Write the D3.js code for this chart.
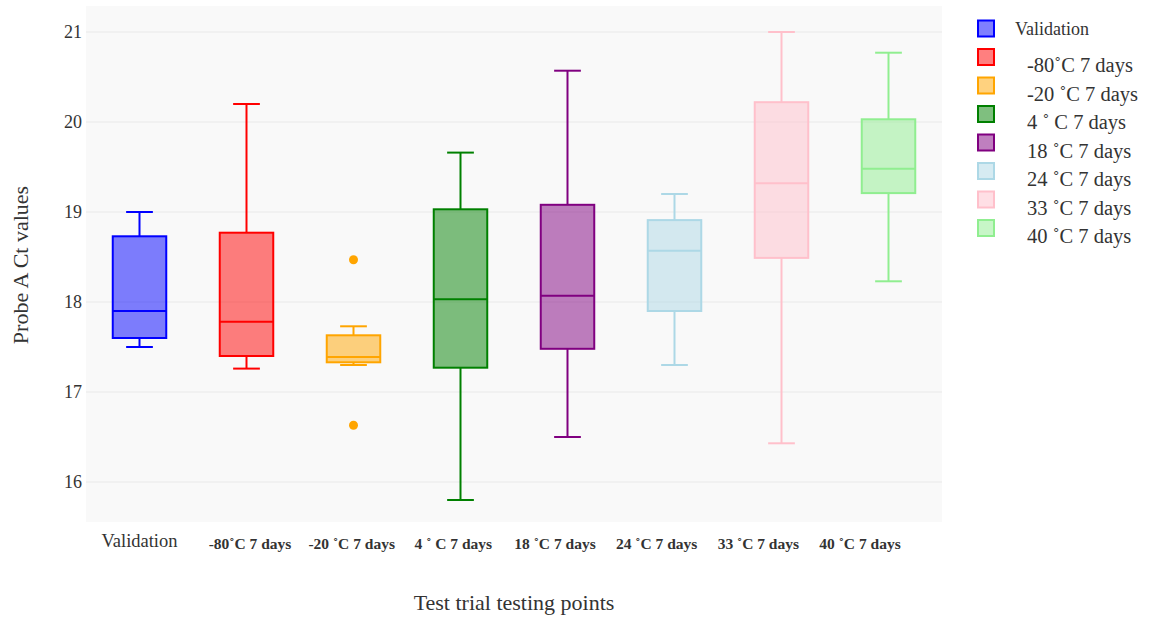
<!DOCTYPE html>
<html>
<head>
<meta charset="utf-8">
<script src="https://cdn.jsdelivr.net/npm/d3@7"></script>
<style>
  html, body { margin: 0; padding: 0; background: #ffffff; }
  svg { display: block; }
  text { font-family: "Liberation Serif", "Times New Roman", serif; fill: #333; }
</style>
</head>
<body>
<svg id="chart" width="1159" height="619"></svg>
<script>
// ---- data ----
const categories = ["Validation", "-80˚C 7 days", "-20 ˚C 7 days", "4 ˚ C 7 days",
                    "18 ˚C 7 days", "24 ˚C 7 days", "33 ˚C 7 days", "40 ˚C 7 days"];
const axisLabels = ["Validation", "-80˚C 7 days", "-20 ˚C 7 days", "4 ˚ C 7 days",
                    "18 ˚C 7 days", "24 ˚C 7 days", "33 ˚C 7 days", "40 ˚C 7 days"];
const lowerWhisker = [17.50, 17.26, 17.30, 15.80, 16.50, 17.30, 16.43, 18.23];
const q1Values     = [17.60, 17.40, 17.33, 17.27, 17.48, 17.90, 18.49, 19.21];
const medianValues = [17.90, 17.78, 17.39, 18.03, 18.07, 18.57, 19.32, 19.48];
const q3Values     = [18.73, 18.77, 17.63, 19.03, 19.08, 18.91, 20.22, 20.03];
const upperWhisker = [19.00, 20.20, 17.73, 19.66, 20.57, 19.20, 21.00, 20.77];
const outlierValues = [[], [], [18.47, 16.63], [], [], [], [], []];
const colors = ["#0000ff", "#ff0000", "#ffa500", "#008000",
                "#800080", "#add8e6", "#ffc0cb", "#90ee90"];
const yTicks = [16, 17, 18, 19, 20, 21];
const xTitle = "Test trial testing points";
const yTitle = "Probe A Ct values";

// ---- layout ----
const svg = d3.select("#chart");
const plot = { left: 86, right: 942 };
const y = d3.scaleLinear().domain([16, 21]).range([482, 32]);
const yTop = y(21.29), yBottom = y(15.555);
const x = d3.scaleBand().domain(categories).range([plot.left, plot.right]).padding(0);
const boxW = x.bandwidth() * 0.5;

// background
svg.append("rect")
  .attr("x", plot.left).attr("y", yTop)
  .attr("width", plot.right - plot.left).attr("height", yBottom - yTop)
  .attr("fill", "#f9f9f9");

// grid
svg.append("g").selectAll("line").data(yTicks).join("line")
  .attr("x1", plot.left).attr("x2", plot.right)
  .attr("y1", d => y(d)).attr("y2", d => y(d))
  .attr("stroke", "#e9e9e9").attr("stroke-width", 1.2);

// y axis
const yAxis = d3.axisLeft(y).tickValues(yTicks).tickSize(0).tickPadding(4)
  .tickFormat(d3.format("d"));
const yg = svg.append("g").attr("transform", `translate(${plot.left - 0},0)`).call(yAxis);
yg.select(".domain").remove();
yg.selectAll("text").attr("font-size", 18).style("font-family", '"Liberation Serif", serif').attr("fill", "#333");

// boxes
const data = categories.map((c, i) => ({
  c, i, lo: lowerWhisker[i], q1: q1Values[i], med: medianValues[i],
  q3: q3Values[i], hi: upperWhisker[i], out: outlierValues[i], color: colors[i]
}));

const boxes = svg.append("g").selectAll("g").data(data).join("g")
  .attr("transform", d => `translate(${x(d.c) + x.bandwidth() / 2},0)`);

boxes.append("line")
  .attr("x1", 0).attr("x2", 0)
  .attr("y1", d => y(d.hi)).attr("y2", d => y(d.q3))
  .attr("stroke", d => d.color).attr("stroke-width", 2);
boxes.append("line")
  .attr("x1", 0).attr("x2", 0)
  .attr("y1", d => y(d.q1)).attr("y2", d => y(d.lo))
  .attr("stroke", d => d.color).attr("stroke-width", 2);
boxes.append("line")
  .attr("x1", -boxW / 4).attr("x2", boxW / 4)
  .attr("y1", d => y(d.hi)).attr("y2", d => y(d.hi))
  .attr("stroke", d => d.color).attr("stroke-width", 2);
boxes.append("line")
  .attr("x1", -boxW / 4).attr("x2", boxW / 4)
  .attr("y1", d => y(d.lo)).attr("y2", d => y(d.lo))
  .attr("stroke", d => d.color).attr("stroke-width", 2);
boxes.append("rect")
  .attr("x", -boxW / 2).attr("width", boxW)
  .attr("y", d => y(d.q3)).attr("height", d => y(d.q1) - y(d.q3))
  .attr("fill", d => d.color).attr("fill-opacity", 0.5)
  .attr("stroke", d => d.color).attr("stroke-width", 2);
boxes.append("line")
  .attr("x1", -boxW / 2).attr("x2", boxW / 2)
  .attr("y1", d => y(d.med)).attr("y2", d => y(d.med))
  .attr("stroke", d => d.color).attr("stroke-width", 2);
boxes.selectAll("circle").data(d => d.out.map(v => ({ v, color: d.color }))).join("circle")
  .attr("cx", 0).attr("cy", o => y(o.v)).attr("r", 4.5)
  .attr("fill", o => o.color);

// x tick labels
const labelX = d3.scalePoint().domain(axisLabels.slice(1)).range([250, 860]);
svg.append("text")
  .attr("x", x(categories[0]) + x.bandwidth() / 2).attr("y", 547)
  .attr("text-anchor", "middle").attr("font-size", 18.5)
  .text(axisLabels[0]);
svg.append("g").selectAll("text").data(axisLabels.slice(1)).join("text")
  .attr("x", d => labelX(d)).attr("y", 549)
  .attr("text-anchor", "middle").attr("font-size", 15.5).attr("font-weight", "bold")
  .text(d => d);

// axis titles
svg.append("text")
  .attr("x", 514).attr("y", 610)
  .attr("text-anchor", "middle").attr("font-size", 22)
  .text(xTitle);
svg.append("text")
  .attr("transform", "translate(28,265) rotate(-90)")
  .attr("text-anchor", "middle").attr("font-size", 22)
  .text(yTitle);

// legend
const legend = svg.append("g").selectAll("g").data(data).join("g")
  .attr("transform", d => `translate(986,${28.5 + d.i * 28.5})`);
legend.append("rect")
  .attr("x", -8).attr("y", -8).attr("width", 16).attr("height", 16)
  .attr("fill", d => d.color).attr("fill-opacity", 0.5)
  .attr("stroke", d => d.color).attr("stroke-width", 2);
legend.append("text")
  .attr("x", d => d.i === 0 ? 29 : 41)
  .attr("y", d => d.i === 0 ? 6 : 15)
  .attr("font-size", d => d.i === 0 ? 18 : 20.5)
  .text(d => d.c);
</script>
</body>
</html>
